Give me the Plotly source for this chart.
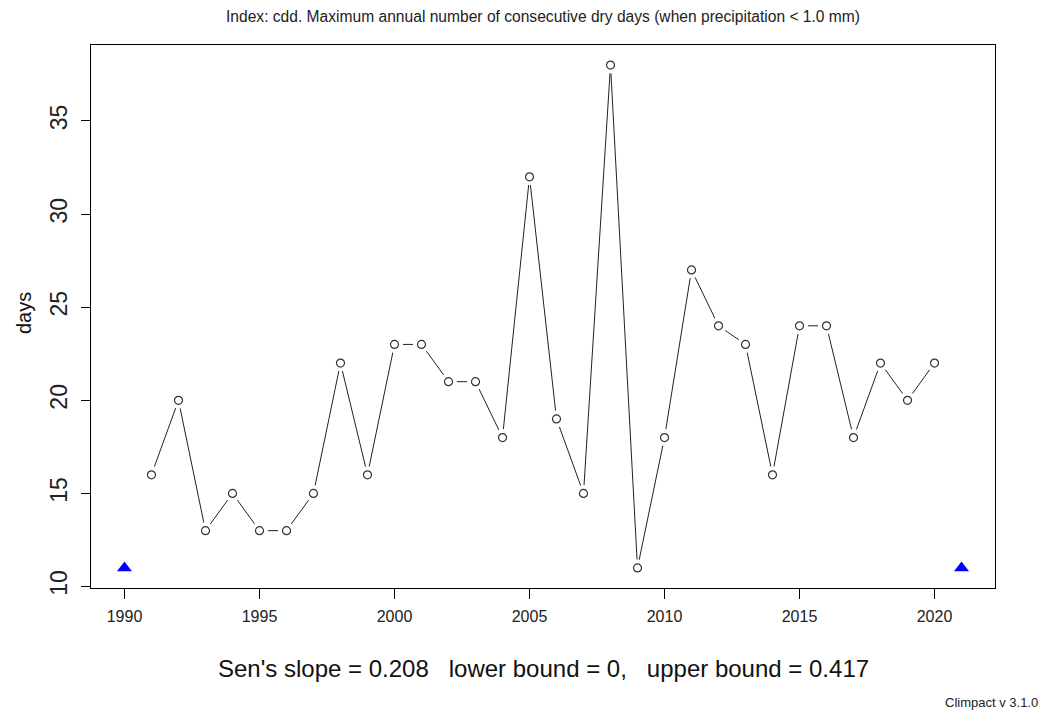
import plotly.graph_objects as go

years = list(range(1991, 2021))
cdd = [16, 20, 13, 15, 13, 13, 15, 22, 16, 23, 23, 21, 21, 18, 32, 19, 15, 38, 11, 18,
       27, 24, 23, 16, 24, 24, 18, 22, 20, 22]
missing_years = [1990, 2021]
missing_vals = [11, 11]
x_ticks = [1990, 1995, 2000, 2005, 2010, 2015, 2020]
y_ticks = [10, 15, 20, 25, 30, 35]

title_text = "Index: cdd. Maximum annual number of consecutive dry days (when precipitation < 1.0 mm)"
sen_text = "Sen's slope = 0.208   lower bound = 0,   upper bound = 0.417"
credit_text = "Climpact v 3.1.0"

FONT = "Liberation Sans, Arial, Helvetica, sans-serif"

# page body has an 8px default margin; compensate so the plot box lands where the reference has it
OFF = 8
L, T, PW, PH = 91, 45, 904, 543  # plot-area box in reference pixels

fig = go.Figure()
fig.add_trace(go.Scatter(x=years, y=cdd, mode="lines",
                         line=dict(color="#222222", width=1), hoverinfo="skip"))
fig.add_trace(go.Scatter(x=years, y=cdd, mode="markers",
                         marker=dict(symbol="circle", size=17, color="white",
                                     line=dict(width=0)), hoverinfo="skip"))
fig.add_trace(go.Scatter(x=years, y=cdd, mode="markers",
                         marker=dict(symbol="circle", size=8, color="white",
                                     line=dict(color="#333333", width=1.2))))
fig.add_trace(go.Scatter(x=missing_years, y=missing_vals, mode="markers",
                         marker=dict(symbol="triangle-up", size=13, color="#0000ff",
                                     line=dict(width=0))))


def px(xp):
    return (xp - L) / PW


def py(yp):
    return (T + PH - yp) / PH


fig.update_layout(
    width=1051 - OFF, height=711 - OFF,
    margin=dict(l=L - OFF, r=1051 - L - PW, t=T - OFF, b=711 - T - PH),
    paper_bgcolor="white", plot_bgcolor="white",
    showlegend=False,
    font=dict(family=FONT, color="black"),
    xaxis=dict(range=[1988.76, 2022.24], tickvals=x_ticks, showgrid=False, zeroline=False,
               showline=True, mirror=True, linecolor="black", linewidth=1,
               ticks="outside", ticklen=10, tickcolor="black", tickwidth=1,
               ticklabelstandoff=4,
               tickfont=dict(size=16, family=FONT, color="#222222")),
    yaxis=dict(range=[9.92, 39.08], tickvals=y_ticks, showgrid=False, zeroline=False,
               showline=True, mirror=True, linecolor="black", linewidth=1,
               ticks="outside", ticklen=9, tickcolor="black", tickwidth=1,
               tickangle=-90, ticklabelstandoff=5,
               tickfont=dict(size=23, family=FONT, color="#222222")),
    annotations=[
        dict(text=title_text, xref="paper", yref="paper", x=0.5, y=py(17),
             xanchor="center", yanchor="middle", showarrow=False,
             font=dict(size=15.6, family=FONT, color="#222222")),
        dict(text=sen_text, xref="paper", yref="paper", x=0.5, y=py(668),
             xanchor="center", yanchor="middle", showarrow=False,
             font=dict(size=24, family=FONT, color="#111111")),
        dict(text=credit_text, xref="paper", yref="paper", x=px(1040),
             y=py(702), xanchor="right", yanchor="middle", showarrow=False,
             font=dict(size=13, family=FONT, color="#222222")),
        dict(text="days", xref="paper", yref="paper", x=px(24), y=py(313),
             xanchor="center", yanchor="middle", showarrow=False, textangle=-90,
             font=dict(size=20, family=FONT, color="#111111")),
    ],
)

fig.write_html("out.html")
